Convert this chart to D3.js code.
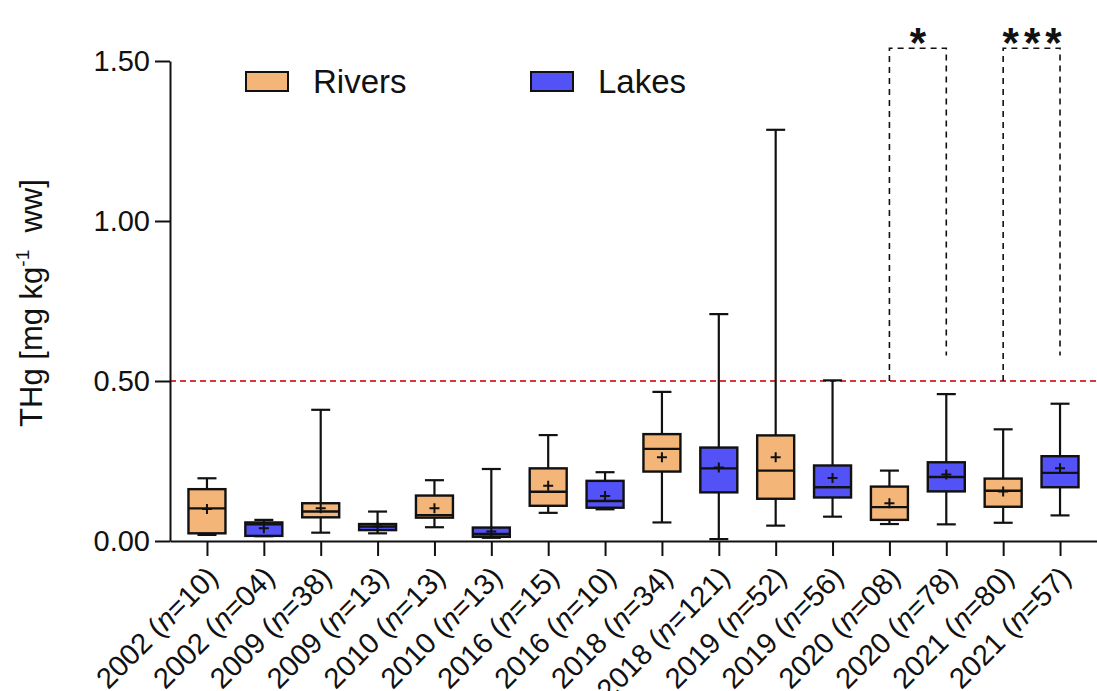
<!DOCTYPE html>
<html>
<head>
<meta charset="utf-8">
<script src="https://cdn.jsdelivr.net/npm/d3@7"></script>
<style>
  body { margin: 0; background: #fff; }
  text { font-family: "Liberation Sans", Arial, sans-serif; fill: #111; }
</style>
</head>
<body>
<svg id="chart" width="1097" height="691"></svg>
<script>
// data
const years = ["2002","2002","2009","2009","2010","2010","2016","2016","2018","2018","2019","2019","2020","2020","2021","2021"];
const nValues = ["10","04","38","13","13","13","15","10","34","121","52","56","08","78","80","57"];
const habitat = ["Rivers","Lakes","Rivers","Lakes","Rivers","Lakes","Rivers","Lakes","Rivers","Lakes","Rivers","Lakes","Rivers","Lakes","Rivers","Lakes"];
const whiskerLow  = [0.019,0.015,0.026,0.024,0.043,0.010,0.088,0.099,0.058,0.006,0.048,0.076,0.053,0.052,0.057,0.080];
const q1          = [0.024,0.016,0.074,0.034,0.073,0.013,0.110,0.104,0.217,0.152,0.132,0.136,0.066,0.155,0.107,0.168];
const median      = [0.102,0.052,0.092,0.045,0.081,0.022,0.154,0.125,0.288,0.227,0.220,0.168,0.106,0.200,0.157,0.213];
const q3          = [0.162,0.058,0.118,0.053,0.142,0.042,0.227,0.188,0.334,0.292,0.330,0.236,0.170,0.246,0.195,0.265];
const whiskerHigh = [0.196,0.066,0.410,0.092,0.190,0.225,0.331,0.215,0.466,0.709,1.285,0.502,0.220,0.459,0.349,0.429];
const mean        = [0.100,0.040,0.102,0.045,0.102,0.030,0.173,0.141,0.262,0.230,0.262,0.197,0.118,0.208,0.155,0.227];
const yTicks = [0, 0.5, 1.0, 1.5];
const limit = 0.5;
// significance brackets: [from index, to index, label, top, right end]
const brackets = [[12, 13, "*", 1.54, 0.58], [14, 15, "***", 1.54, 0.58]];

const categories = years.map((y, i) => i);

let svg = d3.select("#chart");
let plotLeft = 170, plotRight = 1097, plotTop = 61, plotBottom = 541;

let x = d3.scalePoint().domain(categories).range([plotLeft, plotRight]).padding(0.65);
let y = d3.scaleLinear().domain([0, 1.5]).range([plotBottom, plotTop]);
let color = d3.scaleOrdinal().domain(["Rivers","Lakes"]).range(["#F3B578","#5252F6"]);

let boxW = 37, capW = 19;

// limit line
svg.append("line")
    .attr("x1", plotLeft).attr("x2", plotRight)
    .attr("y1", y(limit)).attr("y2", y(limit))
    .attr("stroke", "#D8373A").attr("stroke-width", 2)
    .attr("stroke-dasharray", "6,4");

// brackets
brackets.forEach(b => {
    let x1 = x(b[0]), x2 = x(b[1]);
    svg.append("path")
        .attr("d", "M" + x1 + "," + y(limit) + "V" + y(b[3]) + "H" + x2 + "V" + y(b[4]))
        .attr("fill", "none").attr("stroke", "#111").attr("stroke-width", 1.6)
        .attr("stroke-dasharray", "6,5");
    svg.append("text")
        .attr("x", (x1 + x2) / 2 + (b[2].length > 1 ? 3 : 0)).attr("y", y(b[3]) + 9)
        .attr("text-anchor", "middle")
        .attr("font-size", 42).attr("font-weight", "bold")
        .attr("letter-spacing", b[2].length > 1 ? 5 : 0)
        .text(b[2]);
});

// boxes
let g = svg.selectAll(".box").data(categories).enter().append("g").attr("class", "box")
    .attr("transform", d => "translate(" + x(d) + ",0)");

g.append("line")
    .attr("y1", d => y(whiskerLow[d])).attr("y2", d => y(whiskerHigh[d]))
    .attr("stroke", "#111").attr("stroke-width", 2.2);
g.append("line")
    .attr("x1", -capW / 2).attr("x2", capW / 2)
    .attr("y1", d => y(whiskerHigh[d])).attr("y2", d => y(whiskerHigh[d]))
    .attr("stroke", "#111").attr("stroke-width", 2.2);
g.append("line")
    .attr("x1", -capW / 2).attr("x2", capW / 2)
    .attr("y1", d => y(whiskerLow[d])).attr("y2", d => y(whiskerLow[d]))
    .attr("stroke", "#111").attr("stroke-width", 2.2);
g.append("rect")
    .attr("x", -boxW / 2).attr("width", boxW)
    .attr("y", d => y(q3[d])).attr("height", d => y(q1[d]) - y(q3[d]))
    .attr("fill", d => color(habitat[d]))
    .attr("stroke", "#111").attr("stroke-width", 2.4);
g.append("line")
    .attr("x1", -boxW / 2).attr("x2", boxW / 2)
    .attr("y1", d => y(median[d])).attr("y2", d => y(median[d]))
    .attr("stroke", "#111").attr("stroke-width", 2.4);
g.append("path")
    .attr("d", d => "M-5," + y(mean[d]) + "h10M0," + (y(mean[d]) - 5) + "v10")
    .attr("stroke", "#111").attr("stroke-width", 2);

// axes
let yAxis = svg.append("g")
    .attr("transform", "translate(" + plotLeft + ",0)")
    .call(d3.axisLeft(y).tickValues(yTicks).tickFormat(d3.format(".2f")).tickSize(15).tickSizeOuter(0).tickPadding(5));
yAxis.selectAll("text").attr("font-size", 29).attr("font-family", "Liberation Sans, Arial, sans-serif").attr("fill", "#111");

let xAxis = svg.append("g")
    .attr("transform", "translate(0," + plotBottom + ")")
    .call(d3.axisBottom(x).tickSize(15).tickSizeOuter(0).tickFormat(""));

xAxis.selectAll(".tick text").remove();
xAxis.selectAll(".tick").append("text")
    .attr("transform", "translate(12,38) rotate(-45)")
    .attr("text-anchor", "end")
    .attr("font-size", 29)
    .attr("font-family", "Liberation Sans, Arial, sans-serif")
    .attr("fill", "#111")
    .each(function(d) {
        let t = d3.select(this);
        t.append("tspan").text(years[d] + " (");
        t.append("tspan").attr("font-style", "italic").text("n");
        t.append("tspan").text("=" + nValues[d] + ")");
    });

svg.selectAll(".domain, .tick line").attr("stroke", "#111").attr("stroke-width", 2);

// y title
let title = svg.append("text")
    .attr("transform", "translate(42," + ((plotTop + plotBottom) / 2 + 2) + ") rotate(-90)")
    .attr("text-anchor", "middle")
    .attr("font-size", 31);
title.append("tspan").text("THg [mg kg");
title.append("tspan").attr("font-size", 19).attr("dy", -13).text("-1");
title.append("tspan").attr("dy", 13).text("\u00a0 ww]");

// legend
let legend = svg.selectAll(".legend").data(["Rivers","Lakes"]).enter().append("g")
    .attr("class", "legend")
    .attr("transform", (d, i) => "translate(" + (246 + i * 285) + ",72)");
legend.append("rect")
    .attr("width", 42).attr("height", 19)
    .attr("fill", d => color(d)).attr("stroke", "#111").attr("stroke-width", 2);
legend.append("text")
    .attr("x", 67).attr("y", 21)
    .attr("font-size", 33)
    .text(d => d);
</script>
</body>
</html>
